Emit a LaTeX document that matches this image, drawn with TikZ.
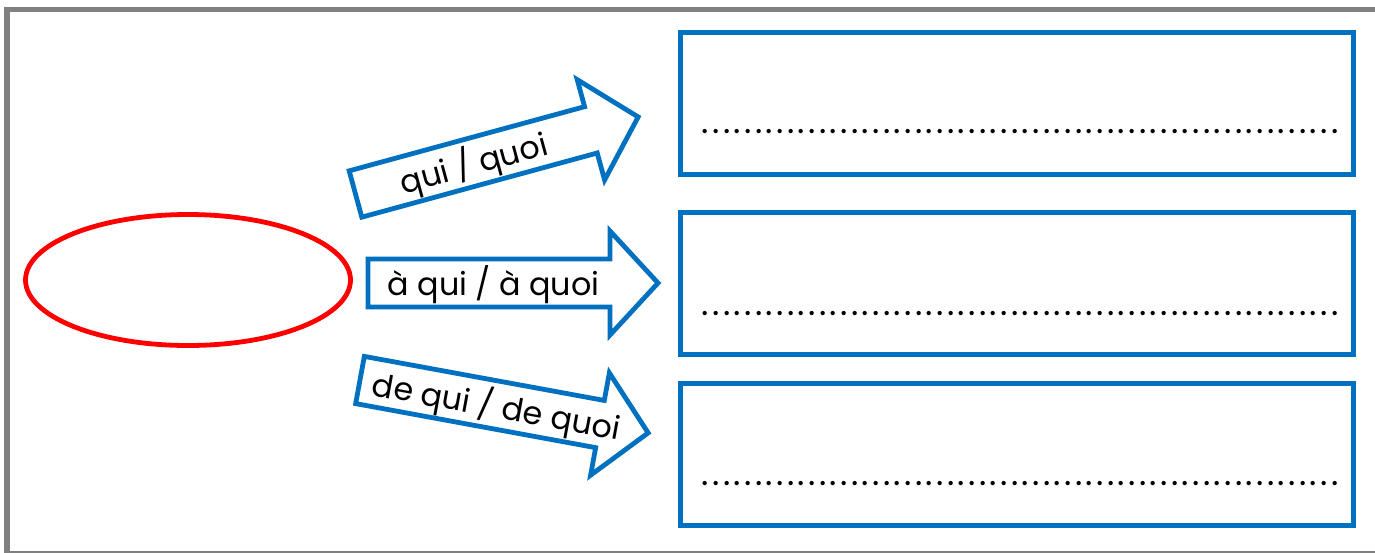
\documentclass[tikz,border=0pt]{standalone}
\usepackage{fontspec}
\setmainfont{Poppins}
\usepackage{tikz}
\usetikzlibrary{shapes.geometric}
\usepackage{xcolor}
\definecolor{boxblue}{HTML}{0070C0}
\definecolor{framegray}{HTML}{808080}

\tikzset{
    blockarrow/.style = {draw = boxblue, line width = 2.4pt, line join = miter, fill = white},
    arrowtext/.style = {inner sep = 0pt, font = \fontsize{15.9}{18}\selectfont},
    answerbox/.style = {draw = boxblue, line width = 2.5pt, rectangle, outer sep = 0pt,
        anchor = north west, minimum width = 336.75pt, minimum height = 71pt},
    dotrow/.style = {inner sep = 0pt, anchor = base west, font = \fontsize{17.5}{18}\selectfont}
}
\newcommand{\answerdots}{\hbox to 320pt{\xleaders\hbox to 5.333pt{\hss.\hss}\hfill}}

\begin{document}
\begin{tikzpicture}[x = 0.5pt, y = -0.5pt]
    \useasboundingbox (0, 0) rectangle (1375, 552);
    \draw[framegray, line width = 2.6pt] (7, 9.5) rectangle (1382, 553.5);

    \node[ellipse, draw = red, line width = 2.4pt, outer sep = 0pt,
        minimum width = 162.5pt, minimum height = 65.5pt] (topic) at (188, 280) {};

    \node[answerbox] (box1) at (680, 32) {};
    \node[answerbox] (box2) at (680, 212) {};
    \node[answerbox] (box3) at (680, 383.5) {};
    \node[dotrow] (dots1) at (699.7, 133.5) {\answerdots};
    \node[dotrow] (dots2) at (699.7, 315) {\answerdots};
    \node[dotrow] (dots3) at (699.7, 485) {\answerdots};

    % arrows: tail centre, then turned
    \begin{scope}[shift = {(355.5, 194)}, rotate = 15.25]
        \draw[blockarrow] (0, -24) -- (244, -24) -- (244, -52) -- (293, 0) -- (244, 52) -- (244, 24) -- (0, 24) -- cycle;
        \node[arrowtext, transform shape] (quoi) at (122, 2) {qui / quoi};
    \end{scope}
    \begin{scope}[shift = {(368, 283)}]
        \draw[blockarrow] (0, -24) -- (242, -24) -- (242, -52) -- (290, 0) -- (242, 52) -- (242, 24) -- (0, 24) -- cycle;
        \node[arrowtext] (aquoi) at (125.5, 1.5) {à qui / à quoi};
    \end{scope}
    \begin{scope}[shift = {(360, 380)}, rotate = -10.4]
        \draw[blockarrow] (0, -24) -- (244, -24) -- (244, -52) -- (293, 0) -- (244, 52) -- (244, 24) -- (0, 24) -- cycle;
        \node[arrowtext, transform shape] (dequoi) at (139, 2) {de qui / de quoi};
    \end{scope}
\end{tikzpicture}
\end{document}
